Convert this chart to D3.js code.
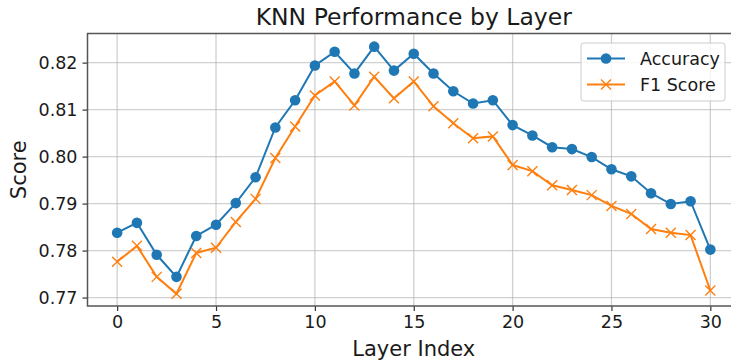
<!DOCTYPE html>
<html>
<head>
<meta charset="utf-8">
<script src="https://cdn.jsdelivr.net/npm/d3@7"></script>
<style>
  html, body { margin: 0; padding: 0; background: #fff; overflow: hidden; }
  svg { display: block; font-family: "DejaVu Sans", sans-serif; }
</style>
</head>
<body>
<div id="chart"></div>
<script>
// --- Data ---
const layers = d3.range(0, 31);
const accuracy = [0.7838, 0.7859, 0.7791, 0.7744, 0.7831, 0.7855, 0.7901, 0.7956, 0.8062, 0.8120,
                  0.8194, 0.8223, 0.8177, 0.8234, 0.8183, 0.8219, 0.8177, 0.8139, 0.8113, 0.8120,
                  0.8067, 0.8045, 0.8020, 0.8016, 0.7999, 0.7973, 0.7958, 0.7922, 0.7899, 0.7905,
                  0.7802];
const f1Score = [0.7776, 0.7810, 0.7744, 0.7708, 0.7795, 0.7806, 0.7861, 0.7910, 0.7997, 0.8064,
                 0.8130, 0.8160, 0.8109, 0.8170, 0.8124, 0.8160, 0.8107, 0.8071, 0.8039, 0.8043,
                 0.7982, 0.7969, 0.7939, 0.7929, 0.7918, 0.7895, 0.7878, 0.7846, 0.7838, 0.7833,
                 0.7715];
const xTicks = [0, 5, 10, 15, 20, 25, 30];
const yTicks = [0.77, 0.78, 0.79, 0.80, 0.81, 0.82];

const W = 731, H = 363;
const margin = { left: 87.5, top: 33.5, right: -9, bottom: 57 };

const svg = d3.select("#chart").append("svg")
    .attr("width", W)
    .attr("height", H);

const x = d3.scaleLinear().domain([-1.5, 31.5]).range([margin.left, W - margin.right]);
const y = d3.scaleLinear().domain([0.7682, 0.8262]).range([H - margin.bottom, margin.top]);

// grid
const grid = svg.append("g").attr("stroke", "#b0b0b0").attr("stroke-opacity", 0.6).attr("stroke-width", 1.3);
grid.selectAll(".gx").data(xTicks).join("line")
    .attr("x1", d => x(d)).attr("x2", d => x(d))
    .attr("y1", y.range()[0]).attr("y2", y.range()[1]);
grid.selectAll(".gy").data(yTicks).join("line")
    .attr("x1", x.range()[0]).attr("x2", x.range()[1])
    .attr("y1", d => y(d)).attr("y2", d => y(d));

// lines
const series = [
    { name: "Accuracy", values: accuracy, color: "#1f77b4", marker: "circle" },
    { name: "F1 Score", values: f1Score, color: "#ff7f0e", marker: "x" }
];

const line = d3.line().x((d, i) => x(layers[i])).y(d => y(d));

function drawMarker(g, type, color) {
    if (type === "circle") {
        g.append("circle").attr("r", 5.3).attr("fill", color);
    } else {
        const s = 5;
        g.append("path")
            .attr("d", `M${-s},${-s}L${s},${s}M${-s},${s}L${s},${-s}`)
            .attr("stroke", color).attr("stroke-width", 1.4).attr("fill", "none");
    }
}

series.forEach(s => {
    svg.append("path")
        .datum(s.values)
        .attr("fill", "none")
        .attr("stroke", s.color)
        .attr("stroke-width", 2)
        .attr("d", line);
    svg.append("g").selectAll("g").data(s.values).join("g")
        .attr("transform", (d, i) => `translate(${x(layers[i])},${y(d)})`)
        .each(function () { drawMarker(d3.select(this), s.marker, s.color); });
});

// axes
const xAxis = svg.append("g")
    .attr("transform", `translate(0,${y.range()[0]})`)
    .call(d3.axisBottom(x).tickValues(xTicks).tickSize(5).tickPadding(5).tickFormat(d3.format("d")));
const yAxis = svg.append("g")
    .attr("transform", `translate(${x.range()[0]},0)`)
    .call(d3.axisLeft(y).tickValues(yTicks).tickSize(5).tickPadding(5).tickFormat(d3.format(".2f")));

[xAxis, yAxis].forEach(a => {
    a.select(".domain").remove();
    a.selectAll(".tick line").attr("stroke", "#333").attr("stroke-width", 1.2);
    a.selectAll(".tick text").attr("fill", "#1a1a1a").style("font-size", "17.5px")
        .style("font-family", "DejaVu Sans, sans-serif");
});

// spines (left, top, bottom)
const spines = svg.append("g").attr("stroke", "#555").attr("stroke-width", 1.5).attr("fill", "none");
spines.append("path")
    .attr("d", `M${W + 5},${y.range()[1]}H${x.range()[0]}V${y.range()[0]}H${W + 5}`);

// title and labels
svg.append("text")
    .attr("x", (x.range()[0] + x.range()[1]) / 2)
    .attr("y", 25)
    .attr("text-anchor", "middle")
    .style("font-size", "23.5px")
    .attr("fill", "#1a1a1a")
    .text("KNN Performance by Layer");

svg.append("text")
    .attr("x", (x.range()[0] + x.range()[1]) / 2)
    .attr("y", 356)
    .attr("text-anchor", "middle")
    .style("font-size", "21px")
    .attr("fill", "#1a1a1a")
    .text("Layer Index");

svg.append("text")
    .attr("transform", `translate(26,${(y.range()[0] + y.range()[1]) / 2}) rotate(-90)`)
    .attr("text-anchor", "middle")
    .style("font-size", "21px")
    .attr("fill", "#1a1a1a")
    .text("Score");

// legend
const legend = svg.append("g").attr("transform", "translate(581,43)");
legend.append("rect")
    .attr("width", 144).attr("height", 58).attr("rx", 3)
    .attr("fill", "#fff").attr("fill-opacity", 0.8)
    .attr("stroke", "#ccc").attr("stroke-width", 1);
series.forEach((s, i) => {
    const row = legend.append("g").attr("transform", `translate(0,${15.5 + i * 26})`);
    row.append("line").attr("x1", 6).attr("x2", 44)
        .attr("stroke", s.color).attr("stroke-width", 2);
    const m = row.append("g").attr("transform", "translate(25,0)");
    drawMarker(m, s.marker, s.color);
    row.append("text").attr("x", 59).attr("y", 6.5)
        .style("font-size", "17.5px").attr("fill", "#1a1a1a")
        .text(s.name);
});
</script>
</body>
</html>
